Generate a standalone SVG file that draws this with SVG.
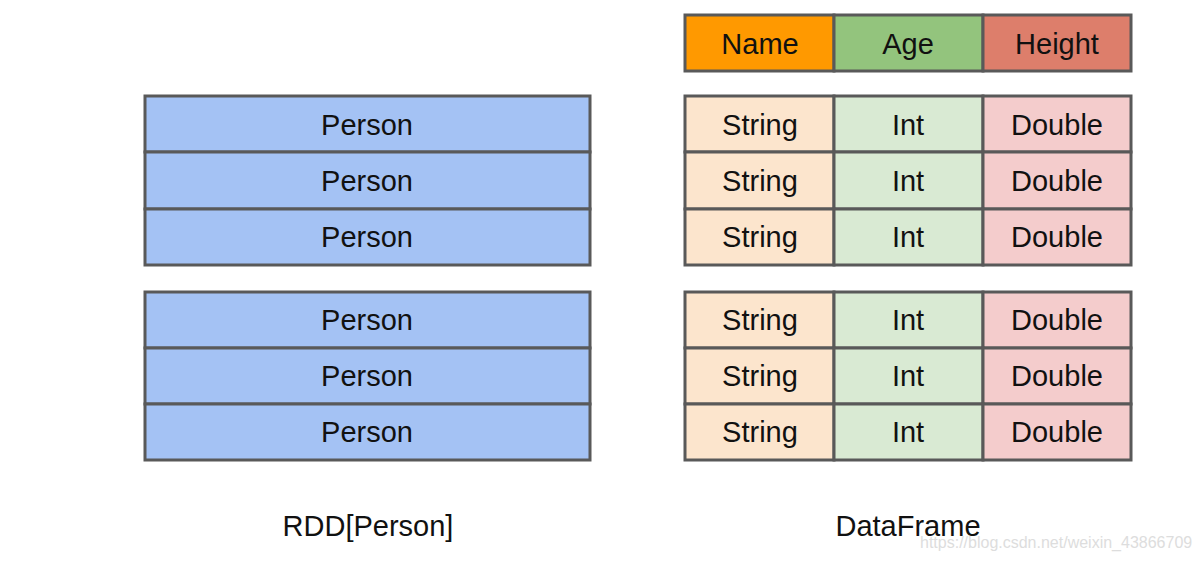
<svg xmlns="http://www.w3.org/2000/svg" width="1201" height="561" viewBox="0 0 1201 561">
<style>
text{font-family:"Liberation Sans",Arial,sans-serif;font-size:29px;fill:#111;text-anchor:middle}
.c{stroke:#595959;stroke-width:3}
.p{fill:#a4c2f4}.n{fill:#ff9900}.a{fill:#93c47d}.h{fill:#dd7e6b}
.s{fill:#fce5cd}.i{fill:#d9ead3}.d{fill:#f4cccc}
.wm{font-size:16px;fill:#dddddd;text-anchor:start}
</style>
<rect width="1201" height="561" fill="#fff"/>
<g id="rdd-group1">
<rect class="c p" x="145" y="96" width="445" height="56"/>
<rect class="c p" x="145" y="152" width="445" height="57"/>
<rect class="c p" x="145" y="209" width="445" height="56"/>
<text x="367" y="135">Person</text>
<text x="367" y="191">Person</text>
<text x="367" y="247">Person</text>
</g>
<g id="rdd-group2">
<rect class="c p" x="145" y="292" width="445" height="56"/>
<rect class="c p" x="145" y="348" width="445" height="56"/>
<rect class="c p" x="145" y="404" width="445" height="56"/>
<text x="367" y="330">Person</text>
<text x="367" y="386">Person</text>
<text x="367" y="442">Person</text>
</g>
<g id="df-header">
<rect class="c n" x="685" y="15" width="149" height="56"/>
<rect class="c a" x="834" y="15" width="149" height="56"/>
<rect class="c h" x="983" y="15" width="148" height="56"/>
<text x="760" y="54">Name</text>
<text x="908" y="54">Age</text>
<text x="1057" y="54">Height</text>
</g>
<g id="df-group1">
<rect class="c s" x="685" y="96" width="149" height="56"/>
<rect class="c i" x="834" y="96" width="149" height="56"/>
<rect class="c d" x="983" y="96" width="148" height="56"/>
<rect class="c s" x="685" y="152" width="149" height="57"/>
<rect class="c i" x="834" y="152" width="149" height="57"/>
<rect class="c d" x="983" y="152" width="148" height="57"/>
<rect class="c s" x="685" y="209" width="149" height="56"/>
<rect class="c i" x="834" y="209" width="149" height="56"/>
<rect class="c d" x="983" y="209" width="148" height="56"/>
<text x="760" y="135">String</text><text x="908" y="135">Int</text><text x="1057" y="135">Double</text>
<text x="760" y="191">String</text><text x="908" y="191">Int</text><text x="1057" y="191">Double</text>
<text x="760" y="247">String</text><text x="908" y="247">Int</text><text x="1057" y="247">Double</text>
</g>
<g id="df-group2">
<rect class="c s" x="685" y="292" width="149" height="56"/>
<rect class="c i" x="834" y="292" width="149" height="56"/>
<rect class="c d" x="983" y="292" width="148" height="56"/>
<rect class="c s" x="685" y="348" width="149" height="56"/>
<rect class="c i" x="834" y="348" width="149" height="56"/>
<rect class="c d" x="983" y="348" width="148" height="56"/>
<rect class="c s" x="685" y="404" width="149" height="56"/>
<rect class="c i" x="834" y="404" width="149" height="56"/>
<rect class="c d" x="983" y="404" width="148" height="56"/>
<text x="760" y="330">String</text><text x="908" y="330">Int</text><text x="1057" y="330">Double</text>
<text x="760" y="386">String</text><text x="908" y="386">Int</text><text x="1057" y="386">Double</text>
<text x="760" y="442">String</text><text x="908" y="442">Int</text><text x="1057" y="442">Double</text>
</g>
<g id="labels">
<text x="368" y="536">RDD[Person]</text>
<text x="908" y="536">DataFrame</text>
<text class="wm" x="920" y="548">https://blog.csdn.net/weixin_43866709</text>
</g>
<g id="connectors"></g>
</svg>
